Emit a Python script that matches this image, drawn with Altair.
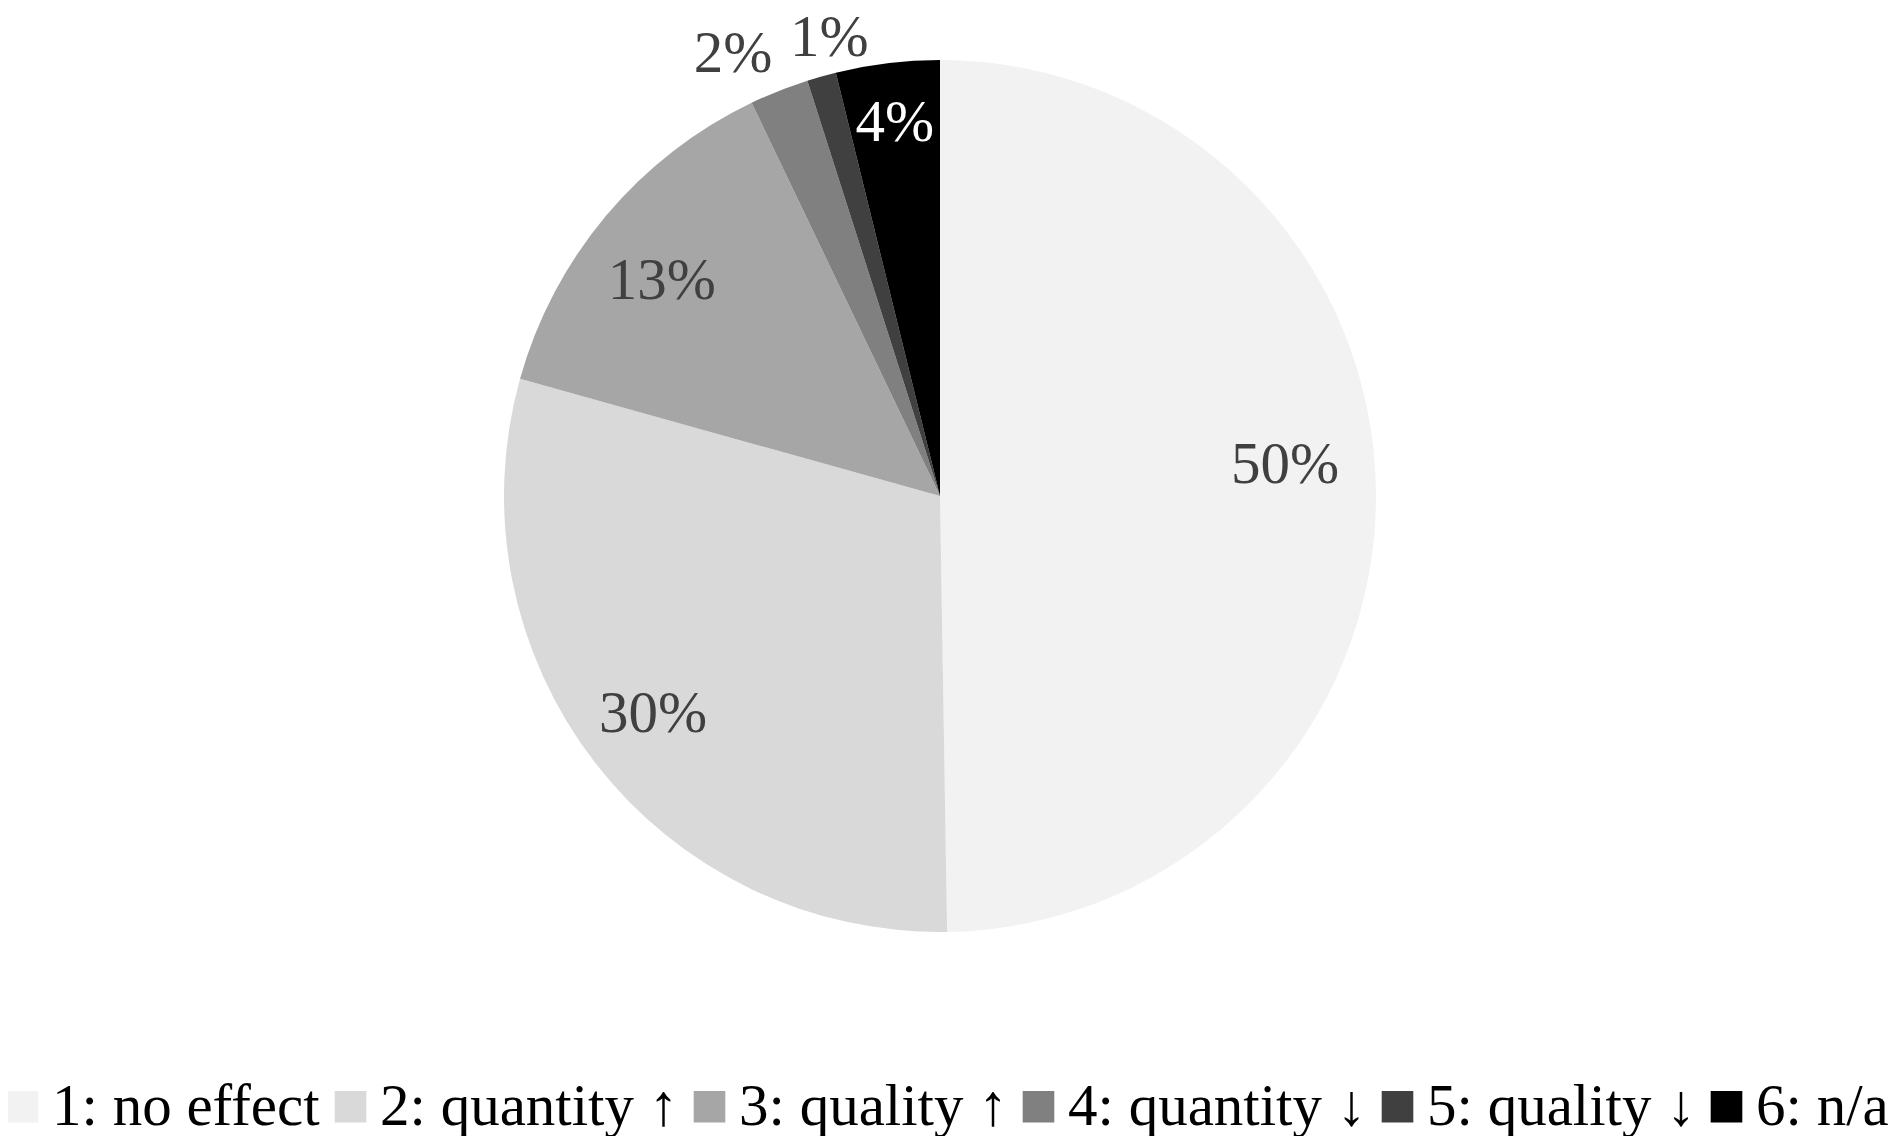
import altair as alt
import pandas as pd

categories = ["1: no effect", "2: quantity ↑", "3: quality ↑", "4: quantity ↓", "5: quality ↓", "6: n/a"]
values = [49.74, 29.59, 13.56, 2.19, 1.08, 3.84]
labels = ["50%", "30%", "13%", "2%", "1%", "4%"]
colors = ["#f2f2f2", "#d9d9d9", "#a6a6a6", "#808080", "#404040", "#000000"]

df = pd.DataFrame({
    "category": categories,
    "value": values,
    "label": labels,
    "order": list(range(len(categories))),
})

base = alt.Chart(df).encode(
    theta=alt.Theta("value:Q", stack=True),
    order=alt.Order("order:Q"),
    x=alt.value(932),
    y=alt.value(488),
)

pie = base.mark_arc(outerRadius=436, strokeWidth=0).encode(
    color=alt.Color(
        "category:N",
        sort=categories,
        scale=alt.Scale(domain=categories, range=colors),
        legend=alt.Legend(
            title=None,
            orient="none",
            legendX=-15,
            legendY=1069,
            padding=0,
            direction="horizontal",
            columns=6,
            labelFont="Liberation Serif",
            labelFontSize=59,
            labelColor="black",
            labelLimit=1000,
            symbolType="square",
            symbolSize=1000,
            symbolStrokeWidth=0,
            labelOffset=0,
            columnPadding=1,
        ),
    )
)

def label_layer(idx, radius, color, dx=0, dy=0):
    return base.mark_text(
        font="Liberation Serif", fontSize=59, align="center", baseline="middle",
        radius=radius, color=color, dx=dx, dy=dy,
    ).encode(
        text=alt.condition(f"datum.order == {idx}", "label:N", alt.value("")),
    )

layers = [
    label_layer(0, 350, "#404040", dx=-5, dy=-28),
    label_layer(1, 350, "#404040", dx=-10, dy=4),
    label_layer(2, 350, "#404040", dx=-10, dy=10),
    label_layer(3, 485, "#404040", dx=-28, dy=9),
    label_layer(4, 485, "#404040", dx=21, dy=9),
    label_layer(5, 376, "white"),
]

chart = alt.layer(pie, *layers).properties(
    width=1885, height=1128, padding=0, autosize=alt.AutoSizeParams(type="none")
).configure_view(stroke=None)

chart.save("out.html", embed_options={"renderer": "svg", "actions": False})
